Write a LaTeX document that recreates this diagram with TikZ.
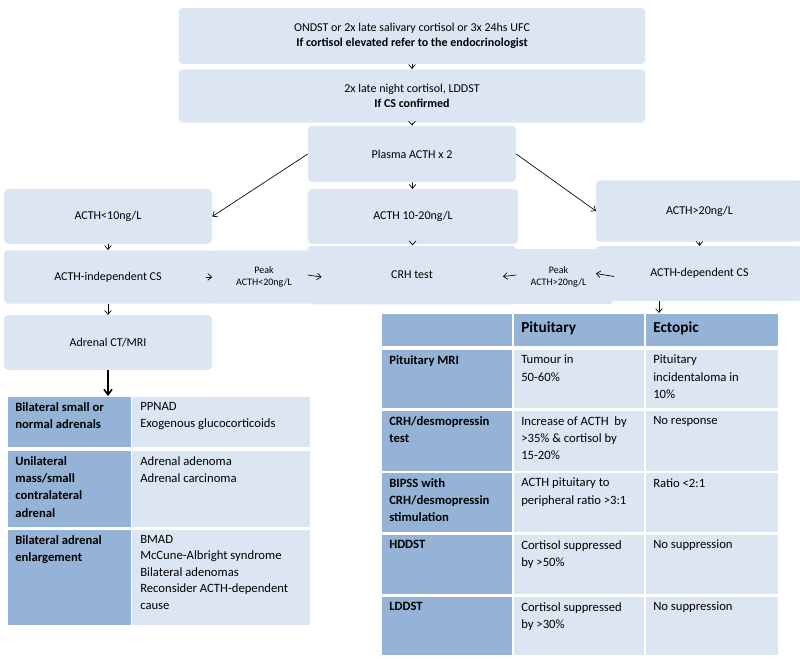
\documentclass[tikz,border=0pt]{standalone}
\usepackage{fontspec}
\setmainfont{Carlito}
\usetikzlibrary{arrows.meta}
\definecolor{lb}{HTML}{DCE6F2}
\definecolor{db}{HTML}{95B3D7}
\begin{document}
\begin{tikzpicture}[x=0.75pt,y=-0.75pt,
 box/.style={fill=lb,rounded corners=3pt,align=center,font=\fontsize{9}{11}\selectfont,inner sep=0pt},
 arr/.style={-{Straight Barb[length=3pt,width=5pt]},line width=0.5pt},
 tx/.style={anchor=north west,align=left,inner sep=0pt,font=\fontsize{9.5}{13}\selectfont},
 bx/.style={tx,font=\fontsize{9.5}{13}\selectfont\bfseries}]
\useasboundingbox (0,0) rectangle (800,658);
\newcommand\bx[6]{\node[box,minimum width=#4-#2,minimum height=#5-#3] (#1) at ({(#2+#4)/2},{(#3+#5)/2}) {#6};}
\bx{t1}{237}{15}{587}{57}{ONDST or 2x late salivary cortisol or 3x 24hs UFC\\\textbf{If cortisol elevated refer to the endocrinologist}}
\bx{t2}{237}{76}{587}{116}{2x late night cortisol, LDDST\\\textbf{If CS confirmed}}
\bx{pl}{334}{133}{490}{175}{Plasma ACTH x 2}
\bx{lo}{30}{196}{186}{237}{ACTH<10ng/L}
\bx{mid}{334}{196}{492}{237}{ACTH 10-20ng/L}
\bx{hi}{622}{188}{777}{234}{ACTH>20ng/L}
\bx{ind}{30}{257}{186}{297}{ACTH-independent CS}
\node[box,minimum width=86,minimum height=40,font=\fontsize{7.5}{9}\selectfont] (pl2) at (264,277) {Peak\\ACTH<20ng/L};
\bx{crh}{334}{253}{490}{297}{CRH test}
\node[box,minimum width=83,minimum height=41,font=\fontsize{7.5}{9}\selectfont] (ph) at (558.5,276.5) {Peak\\ACTH>20ng/L};
\bx{dep}{622}{253}{777}{294}{ACTH-dependent CS}
\bx{ct}{30}{322}{186}{363}{Adrenal CT/MRI}
\draw[arr] (t1) -- (t2);
\draw[arr] (t2) -- (pl);
\draw[arr] (pl.west) -- (lo.east);
\draw[arr] (pl) -- (mid);
\draw[arr] (pl.east) -- (hi.west);
\draw[arr] (lo) -- (ind);
\draw[arr] (mid) -- (crh);
\draw[arr] (hi) -- (dep);
\draw[arr] (crh.west) -- (pl2.east);
\draw[arr] (pl2.west) -- (ind.east);
\draw[arr] (crh.east) -- (ph.west);
\draw[arr] (ph.east) -- (dep.west);
\draw[arr] (ind) -- (ct);
\coordinate (lt) at (108,396);
\coordinate (rt) at (659,313);
\draw[-{Straight Barb[length=4pt,width=6pt]},line width=1.2pt] (ct.south -| lt) -- (lt);
\draw[arr] (dep.south -| rt) -- (rt);
% left table
\newcommand\cl[5]{\fill[#5] (#1,#2) rectangle (#3,#4);}
\cl{8}{397}{131}{447}{db}\cl{132}{397}{310}{447}{lb}
\cl{8}{451}{131}{527}{db}\cl{132}{451}{310}{527}{lb}
\cl{8}{530}{131}{625}{db}\cl{132}{530}{310}{625}{lb}
\node[bx] (a1) at (15,402) {Bilateral small or\\normal adrenals};
\node[tx] (b1) at (140,402) {PPNAD\\Exogenous glucocorticoids};
\node[bx] (a2) at (15,456) {Unilateral\\mass/small\\contralateral\\adrenal};
\node[tx] (b2) at (140,456) {Adrenal adenoma\\Adrenal carcinoma};
\node[bx] (a3) at (15,535) {Bilateral adrenal\\enlargement};
\node[tx,font=\fontsize{9.5}{12.3}\selectfont] (b3) at (140,535) {BMAD\\McCune-Albright syndrome\\Bilateral adenomas\\Reconsider ACTH-dependent\\cause};
% right table
\cl{382}{314}{512}{346}{db}\cl{514}{314}{644}{346}{db}\cl{646}{314}{778}{346}{db}
\foreach \ya/\yb in {350/408,411/471,473/532,535/594,597/655}{
 \cl{382}{\ya}{512}{\yb}{db}\cl{514}{\ya}{644}{\yb}{lb}\cl{646}{\ya}{778}{\yb}{lb}}
\node[bx,font=\fontsize{11.5}{13}\selectfont\bfseries] (hp) at (521,321) {Pituitary};
\node[bx,font=\fontsize{11.5}{13}\selectfont\bfseries] (he) at (653,321) {Ectopic};
\node[bx] (r1) at (389,355) {Pituitary MRI};
\node[tx] (p1) at (521,355) {Tumour in\\50-60\%};
\node[tx] (e1) at (653,355) {Pituitary\\incidentaloma in\\10\%};
\node[bx] (r2) at (389,416) {CRH/desmopressin\\test};
\node[tx] (p2) at (521,416) {Increase of ACTH\ \ by\\>35\% \& cortisol by\\15-20\%};
\node[tx] (e2) at (653,416) {No response};
\node[bx] (r3) at (389,478) {BIPSS with\\CRH/desmopressin\\stimulation};
\node[tx] (p3) at (521,478) {ACTH pituitary to\\peripheral ratio >3:1};
\node[tx] (e3) at (653,478) {Ratio <2:1};
\node[bx] (r4) at (389,540) {HDDST};
\node[tx] (p4) at (521,540) {Cortisol suppressed\\by >50\%};
\node[tx] (e4) at (653,540) {No suppression};
\node[bx] (r5) at (389,602) {LDDST};
\node[tx] (p5) at (521,602) {Cortisol suppressed\\by >30\%};
\node[tx] (e5) at (653,602) {No suppression};
\end{tikzpicture}
\end{document}
